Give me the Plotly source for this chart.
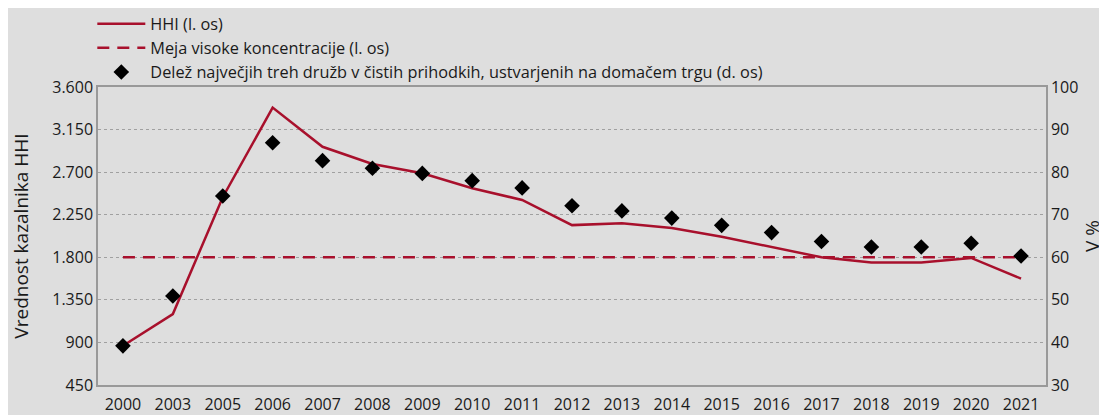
import plotly.graph_objects as go

# podatki
leta = ["2000", "2003", "2005", "2006", "2007", "2008", "2009", "2010", "2011", "2012",
        "2013", "2014", "2015", "2016", "2017", "2018", "2019", "2020", "2021"]
hhi = [865, 1200, 2435, 3382, 2968, 2786, 2688, 2530, 2406, 2140,
       2160, 2110, 2018, 1910, 1800, 1744, 1744, 1793, 1575]
meja = [1800] * len(leta)
delez = [39.2, 50.9, 74.4, 86.9, 82.7, 80.9, 79.7, 78.0, 76.3, 72.1,
         70.9, 69.2, 67.5, 65.8, 63.7, 62.4, 62.4, 63.3, 60.3]

left_ticks = [450, 900, 1350, 1800, 2250, 2700, 3150, 3600]
right_ticks = [30, 40, 50, 60, 70, 80, 90, 100]

RED = "#a8102c"
BG = "#dedede"
FONT = "Open Sans"

fig = go.Figure()
fig.add_trace(go.Scatter(x=leta, y=hhi, name="HHI (l. os)", mode="lines",
                         line=dict(color=RED, width=2.5)))
fig.add_trace(go.Scatter(x=leta, y=meja, name="Meja visoke koncentracije (l. os)", mode="lines",
                         line=dict(color=RED, width=2.5, dash="12px,8px")))
fig.add_trace(go.Scatter(x=leta, y=delez, yaxis="y2", mode="markers",
                         name="Delež največjih treh družb v čistih prihodkih, ustvarjenih na domačem trgu (d. os)",
                         marker=dict(symbol="diamond", size=12, color="black")))

# stran ima 8px roba (body margin), zato je slika manjša
fig.update_layout(
    width=1099, height=407,
    margin=dict(l=90, r=61, t=79, b=30, autoexpand=False),
    paper_bgcolor=BG, plot_bgcolor=BG,
    font=dict(family=FONT, size=16, color="#1a1a1a"),
    separators=",.",
    showlegend=True,
    legend=dict(x=-0.006, y=1.27, xanchor="left", yanchor="top", bgcolor="rgba(0,0,0,0)",
                tracegroupgap=0, itemwidth=48, font=dict(size=16.3)),
    xaxis=dict(type="category", showgrid=False, ticks="", showline=True, linecolor="#999",
               linewidth=1.5, mirror=True, automargin=False, ticklabelstandoff=4,
               range=[-0.5, len(leta) - 0.5]),
    yaxis=dict(range=[450, 3600], tickvals=left_ticks, tickformat=",", showgrid=True,
               gridcolor="#a0a0a0", griddash="dot", gridwidth=1, zeroline=False,
               showline=True, linecolor="#999", linewidth=1.5, automargin=False,
               title=dict(text="Vrednost kazalnika HHI", standoff=22)),
    yaxis2=dict(range=[30, 100], tickvals=right_ticks, overlaying="y", side="right",
                showgrid=False, zeroline=False, showline=True, linecolor="#999", linewidth=1.5,
                automargin=False, title=dict(text="V %", standoff=8)),
)

fig.write_html("out.html")
